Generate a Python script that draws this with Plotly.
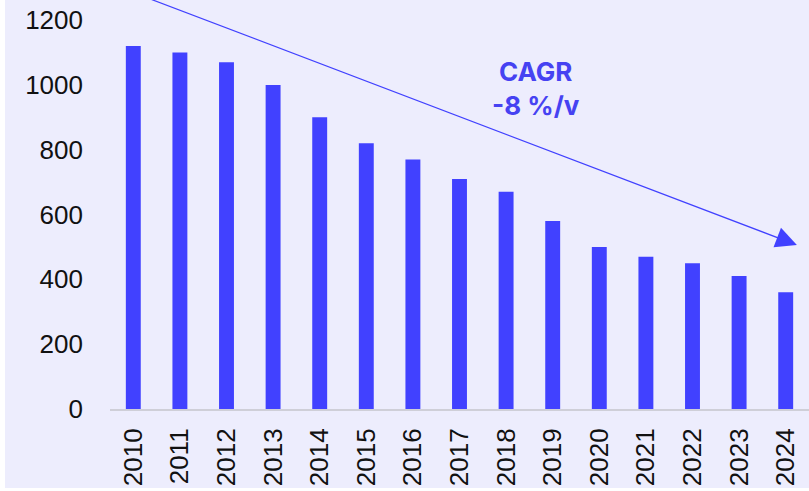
import plotly.graph_objects as go

years = ["2010", "2011", "2012", "2013", "2014", "2015", "2016", "2017",
         "2018", "2019", "2020", "2021", "2022", "2023", "2024"]
values = [1120, 1100, 1070, 1000, 900, 820, 770, 710, 670, 580, 500, 470, 450, 410, 360]
y_ticks = [0, 200, 400, 600, 800, 1000, 1200]
cagr_text = "<b>CAGR<br>-8 %/v</b>"

BG = "#EDEDFD"
BAR = "#4141FF"

fig = go.Figure()
fig.add_trace(go.Bar(
    x=years, y=values, marker=dict(color=BAR, line=dict(width=0)),
    width=0.32, hoverinfo="skip",
))

W, H = 809, 491
L, R, T, B = 110, 0, 0, 82
pw, ph = W - L - R, H - T - B

# lavender background with thin white border on left and bottom
fig.add_shape(type="rect", xref="paper", yref="paper", layer="below",
              x0=(5 - L) / pw, x1=1.0, y0=(ph - (488 - T)) / ph, y1=1.0,
              fillcolor=BG, line=dict(width=0))

fig.add_annotation(
    x=14.24, y=506, xref="x", yref="y",
    ax=0.0, ay=1285, axref="x", ayref="y",
    text="", showarrow=True, arrowhead=2, arrowsize=3.5, arrowwidth=1.2,
    arrowcolor=BAR,
)
fig.add_annotation(
    x=(536 - L) / pw, y=(ph - (88 - T)) / ph, xref="paper", yref="paper",
    text=cagr_text, showarrow=False, align="center", xanchor="center", yanchor="middle",
    font=dict(family="Inter, Liberation Sans, Arial, sans-serif", size=26, color="#4642F2"),
)

fig.update_layout(
    width=W, height=H,
    margin=dict(l=L, r=R, t=T, b=B, pad=0),
    paper_bgcolor="white", plot_bgcolor=BG,
    showlegend=False, bargap=0.68,
    font=dict(family="Liberation Sans, Arial, sans-serif", size=26, color="#111111"),
    xaxis=dict(type="category", tickangle=-90, showgrid=False, showline=True,
               linecolor="#CFCFD8", linewidth=2, ticks="", ticklabelstandoff=7,
               range=[-0.5, 14.5]),
    yaxis=dict(range=[0, 1262], tickvals=y_ticks, showgrid=False, zeroline=False,
               showline=False, ticks="", ticklabelstandoff=26),
)

fig.write_html("out.html", config={"displayModeBar": False},
               post_script="document.body.style.margin='0';")
